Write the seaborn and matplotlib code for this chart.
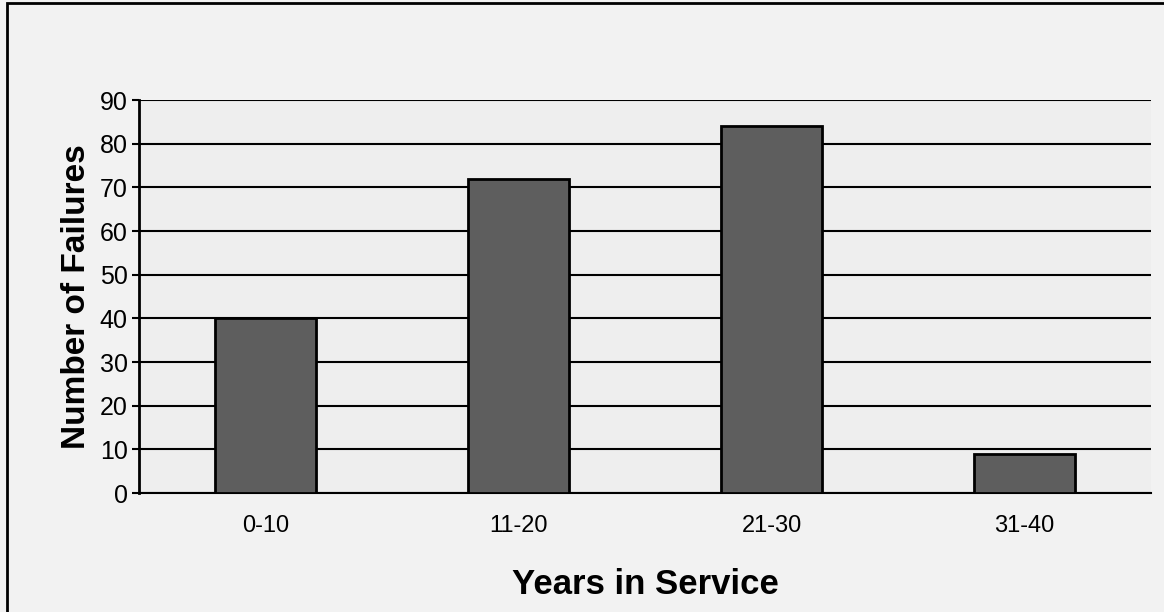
import numpy as np
import pandas as pd
import matplotlib
matplotlib.use('Agg')
import matplotlib.pyplot as plt
import seaborn as sns

# data
years = ['0-10', '11-20', '21-30', '31-40']
failures = [40, 72, 84, 9]

df = pd.DataFrame({'Years in Service': years, 'Number of Failures': failures})

sns.set_theme(style='white')
plt.rcParams['font.family'] = ['Liberation Sans', 'DejaVu Sans']

fig = plt.figure(figsize=(11.64, 6.12), dpi=100)
fig.patch.set_facecolor('#f2f2f2')
ax = fig.add_axes([0.1194, 0.1944, 0.8696, 0.6422])
ax.set_facecolor('#eeeeee')

sns.barplot(data=df, x='Years in Service', y='Number of Failures', color='#5e5e5e',
            width=0.4, edgecolor='black', linewidth=2, saturation=1, ax=ax, zorder=3)

ax.set_ylim(0, 90)
ax.set_xlim(-0.5, 3.5)
ax.set_yticks(np.arange(0, 91, 10))
ax.yaxis.grid(True, color='black', linewidth=1.5)
ax.set_axisbelow(True)
for s in ['top', 'right']:
    ax.spines[s].set_visible(False)
ax.spines['left'].set_color('black')
ax.spines['left'].set_linewidth(2)
ax.spines['bottom'].set_color('black')
ax.spines['bottom'].set_linewidth(1.5)
ax.tick_params(axis='y', left=True, length=5, width=1.5, color='black', labelsize=18, labelcolor='black', pad=3)
ax.tick_params(axis='x', bottom=False, labelsize=17, labelcolor='black', pad=10)

ax.set_ylabel('Number of Failures', fontsize=24, fontweight='bold', color='black', labelpad=6)
ax.set_xlabel('Years in Service', fontsize=25, fontweight='bold', color='black', labelpad=22)

# scanned page frame
fig.add_artist(plt.Rectangle((0.006, -0.1), 1.2, 1.095, transform=fig.transFigure,
                             fill=False, edgecolor='black', linewidth=2))

fig.savefig('out.png', dpi=100)
